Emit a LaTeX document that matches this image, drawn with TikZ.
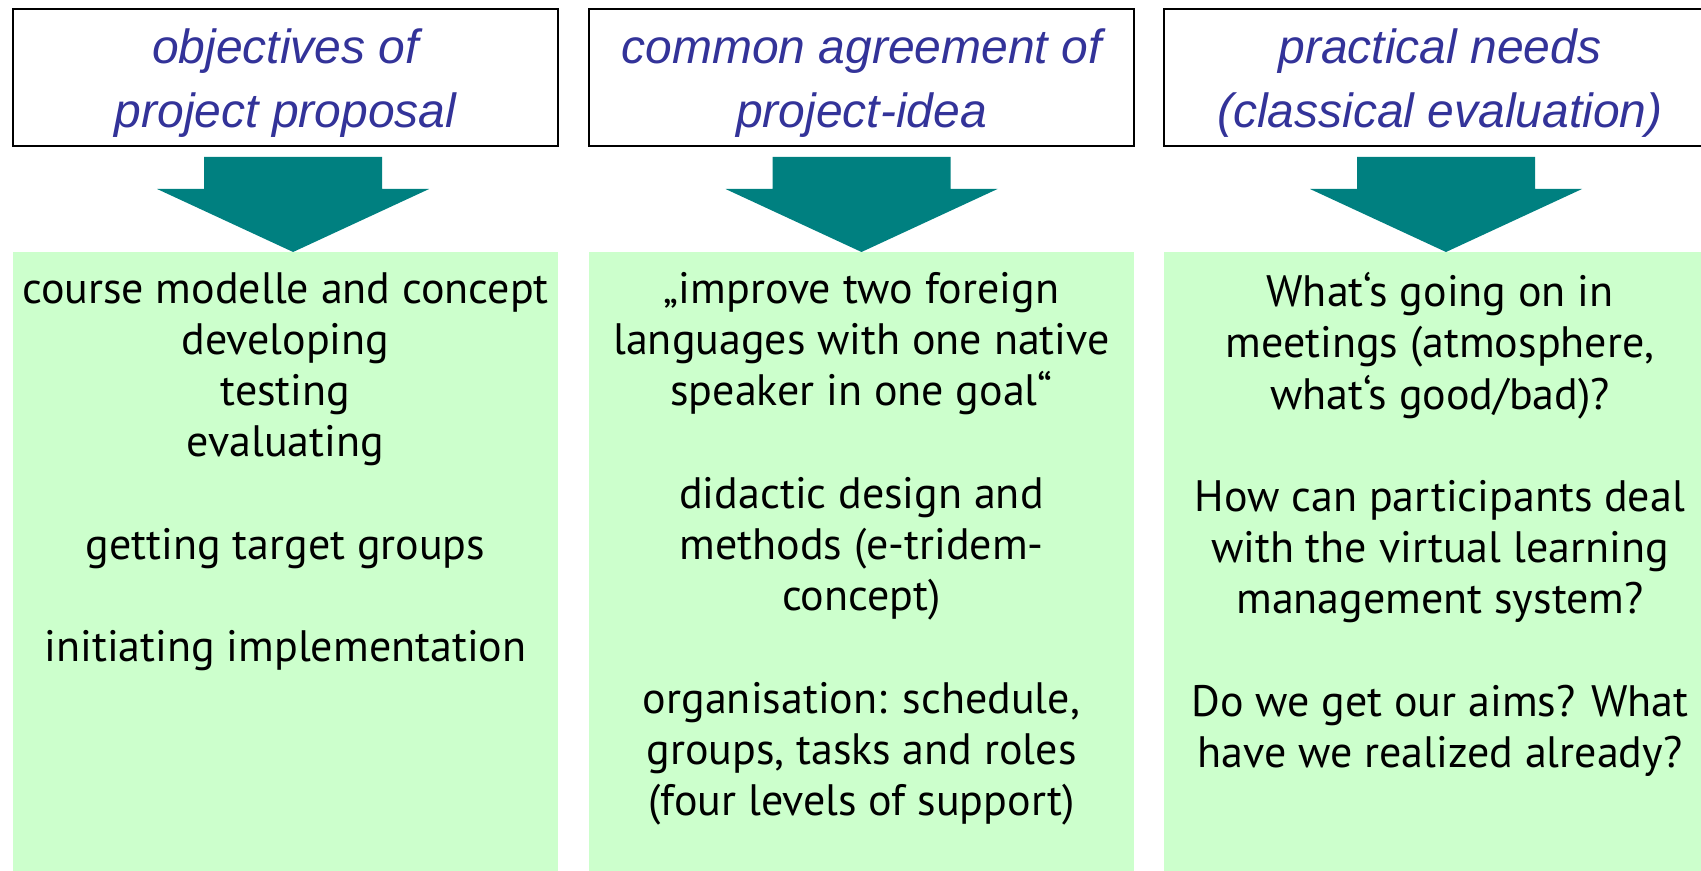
\documentclass[tikz,border=0pt]{standalone}
\usepackage{fontspec}
\setmainfont{PT Sans}
\newfontfamily\headfont{Liberation Sans}
\usetikzlibrary{calc,positioning}
\definecolor{headblue}{RGB}{51,51,153}
\definecolor{arrowteal}{RGB}{0,128,128}
\definecolor{boxgreen}{RGB}{204,255,204}
\tikzset{
  headbox/.style={draw=black, line width=0.8pt, fill=white, inner sep=0pt,
    minimum height=68.5pt},
  headtext/.style={inner sep=0pt, align=center, text=headblue,
    font=\headfont\itshape\fontsize{24}{32}\selectfont},
  greenbox/.style={fill=boxgreen, inner sep=0pt, minimum height=310pt, anchor=north},
  bodytext/.style={inner sep=0pt, anchor=north, align=center,
    font=\fontsize{22}{25.6}\selectfont},
  blockarrow/.style={fill=arrowteal, draw=none}
}

\begin{document}
\begin{tikzpicture}[x=0.5pt, y=-0.5pt]
	\useasboundingbox (0,0) rectangle (1701,871);
	% header boxes
	\node[headbox, minimum width=272.5pt] (head1) at (285.5,77.5) {};
	\node[headbox, minimum width=272.5pt] (head2) at (861.5,77.5) {};
	\node[headbox, minimum width=276pt] (head3) at (1440,77.5) {};
	\node[headtext] (title1) at ([yshift=-2.7pt]head1.center) {objectives of\\ project proposal};
	\node[headtext] (title2) at ([yshift=-2.7pt]head2.center) {common agreement of\\ project-idea};
	\node[headtext] (title3) at ([yshift=-2.7pt]head3.center) {practical needs\\ (classical evaluation)};
	% green boxes
	\node[greenbox, minimum width=272.5pt] (green1) at (285.5,252) {};
	\node[greenbox, minimum width=272.5pt] (green2) at (861.5,252) {};
	\node[greenbox, minimum width=276pt] (green3) at (1440,252) {};
	% arrows
	\coordinate (tip1) at ([xshift=3.8pt]green1.north);
	\coordinate (tip2) at (green2.north);
	\coordinate (tip3) at ([xshift=3pt]green3.north);
	\fill[blockarrow] (tip1) ++(-89,-95) -- ++(178,0) -- ++(0,32) -- ++(47,0)
		-- (tip1) -- ++(-136,-63) -- ++(47,0) -- cycle;
	\fill[blockarrow] (tip2) ++(-89,-95) -- ++(178,0) -- ++(0,32) -- ++(47,0)
		-- (tip2) -- ++(-136,-63) -- ++(47,0) -- cycle;
	\fill[blockarrow] (tip3) ++(-89,-95) -- ++(178,0) -- ++(0,32) -- ++(47,0)
		-- (tip3) -- ++(-136,-63) -- ++(47,0) -- cycle;
	% texts
	\node[bodytext, below=10pt of green1.north] (text1) {course modelle and concept\\ developing\\ testing\\ evaluating\\[25.6pt]
		getting target groups\\[25.6pt] initiating implementation};
	\node[bodytext, below=10pt of green2.north] (text2) {„improve two foreign\\ languages with one native\\ speaker in one goal“\\[25.6pt]
		didactic design and\\ methods (e-tridem-\\ concept)\\[25.6pt]
		organisation: schedule,\\ groups, tasks and roles\\ (four levels of support)};
	\node[bodytext, below=10pt of green3.north] (text3) {What‘s going on in\\ meetings (atmosphere,\\ what‘s good/bad)?\\[25.6pt]
		How can participants deal\\ with the virtual learning\\ management system?\\[25.6pt]
		Do we get our aims? What\\ have we realized already?};
\end{tikzpicture}
\end{document}
